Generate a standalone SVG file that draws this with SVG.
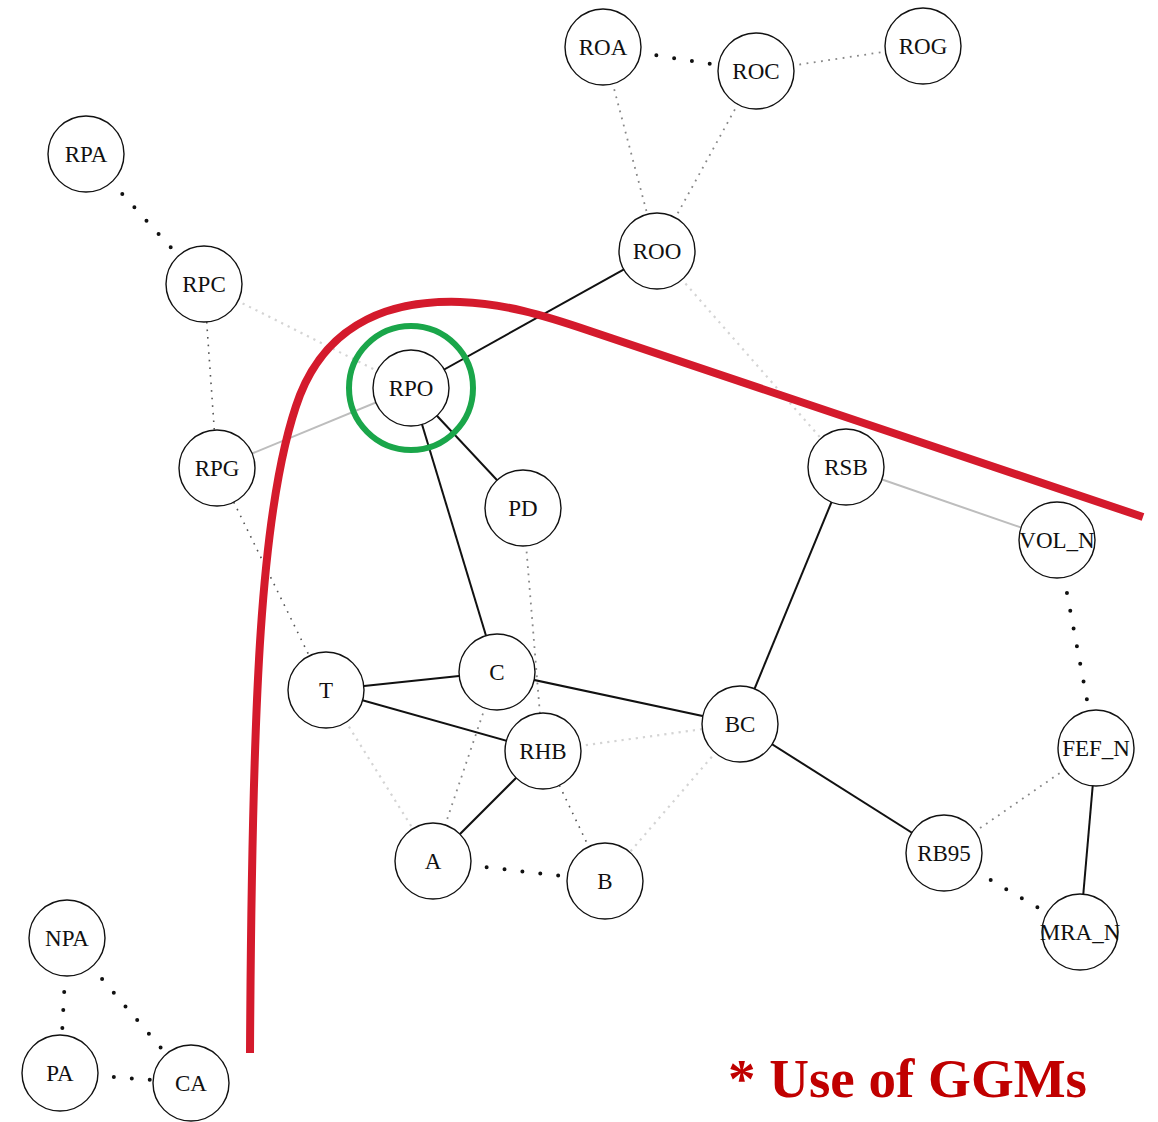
<svg xmlns="http://www.w3.org/2000/svg" width="1158" height="1122" viewBox="0 0 1158 1122">
<style>
.n circle{fill:#fff;stroke:#111;stroke-width:1.4}
.n text{font-family:"Liberation Serif","Times New Roman",serif;font-size:23px;fill:#111;text-anchor:middle}
.s{stroke:#111;stroke-width:2;fill:none}
.sl{stroke:#bdbdbd;stroke-width:2;fill:none}
.hd{stroke:#111;stroke-width:4;stroke-linecap:round;stroke-dasharray:0 18;fill:none}
.fd{stroke:#555;stroke-width:1.6;stroke-dasharray:1.6 6;fill:none}
.md{stroke:#888;stroke-width:1.8;stroke-dasharray:1.8 5.5;fill:none}
.ld{stroke:#d4d4d4;stroke-width:2.2;stroke-dasharray:2.2 5;fill:none}
</style>
<rect width="1158" height="1122" fill="#fff"/>
<g id="connectors">
<line class="s" x1="657" y1="251" x2="411" y2="388"/>
<line class="s" x1="411" y1="388" x2="497" y2="672"/>
<line class="s" x1="411" y1="388" x2="523" y2="508"/>
<line class="s" x1="326" y1="690" x2="497" y2="672"/>
<line class="s" x1="326" y1="690" x2="543" y2="751"/>
<line class="s" x1="497" y1="672" x2="740" y2="724"/>
<line class="s" x1="846" y1="467" x2="740" y2="724"/>
<line class="s" x1="740" y1="724" x2="944" y2="853"/>
<line class="s" x1="543" y1="751" x2="433" y2="861"/>
<line class="s" x1="1096" y1="748" x2="1080" y2="932"/>
<line class="sl" x1="411" y1="388" x2="217" y2="468"/>
<line class="sl" x1="846" y1="467" x2="1057" y2="540"/>
<line class="hd" x1="603" y1="47" x2="756" y2="71"/>
<line class="hd" x1="86" y1="154" x2="204" y2="284"/>
<line class="hd" x1="1057" y1="540" x2="1096" y2="748"/>
<line class="hd" x1="433" y1="861" x2="605" y2="881"/>
<line class="hd" x1="944" y1="853" x2="1080" y2="932"/>
<line class="hd" x1="67" y1="938" x2="60" y2="1073"/>
<line class="hd" x1="67" y1="938" x2="191" y2="1083"/>
<line class="hd" x1="60" y1="1073" x2="191" y2="1083"/>
<line class="md" x1="603" y1="47" x2="657" y2="251"/>
<line class="md" x1="756" y1="71" x2="657" y2="251"/>
<line class="md" x1="756" y1="71" x2="923" y2="46"/>
<line class="fd" x1="204" y1="284" x2="217" y2="468"/>
<line class="fd" x1="217" y1="468" x2="326" y2="690"/>
<line class="md" x1="523" y1="508" x2="543" y2="751"/>
<line class="md" x1="497" y1="672" x2="433" y2="861"/>
<line class="fd" x1="543" y1="751" x2="605" y2="881"/>
<line class="md" x1="944" y1="853" x2="1096" y2="748"/>
<line class="ld" x1="204" y1="284" x2="411" y2="388"/>
<line class="ld" x1="657" y1="251" x2="846" y2="467"/>
<line class="ld" x1="326" y1="690" x2="433" y2="861"/>
<line class="ld" x1="543" y1="751" x2="740" y2="724"/>
<line class="ld" x1="740" y1="724" x2="605" y2="881"/>
</g>
<g id="node-ROA" class="n"><circle cx="603" cy="47" r="38"/><text x="603" y="55">ROA</text></g>
<g id="node-ROC" class="n"><circle cx="756" cy="71" r="38"/><text x="756" y="79">ROC</text></g>
<g id="node-ROG" class="n"><circle cx="923" cy="46" r="38"/><text x="923" y="54">ROG</text></g>
<g id="node-ROO" class="n"><circle cx="657" cy="251" r="38"/><text x="657" y="259">ROO</text></g>
<g id="node-RPA" class="n"><circle cx="86" cy="154" r="38"/><text x="86" y="162">RPA</text></g>
<g id="node-RPC" class="n"><circle cx="204" cy="284" r="38"/><text x="204" y="292">RPC</text></g>
<g id="node-RPO" class="n"><circle cx="411" cy="388" r="38"/><text x="411" y="396">RPO</text></g>
<g id="node-RPG" class="n"><circle cx="217" cy="468" r="38"/><text x="217" y="476">RPG</text></g>
<g id="node-PD" class="n"><circle cx="523" cy="508" r="38"/><text x="523" y="516">PD</text></g>
<g id="node-RSB" class="n"><circle cx="846" cy="467" r="38"/><text x="846" y="475">RSB</text></g>
<g id="node-VOL_N" class="n"><circle cx="1057" cy="540" r="38"/><text x="1057" y="548">VOL_N</text></g>
<g id="node-T" class="n"><circle cx="326" cy="690" r="38"/><text x="326" y="698">T</text></g>
<g id="node-C" class="n"><circle cx="497" cy="672" r="38"/><text x="497" y="680">C</text></g>
<g id="node-BC" class="n"><circle cx="740" cy="724" r="38"/><text x="740" y="732">BC</text></g>
<g id="node-RHB" class="n"><circle cx="543" cy="751" r="38"/><text x="543" y="759">RHB</text></g>
<g id="node-FEF_N" class="n"><circle cx="1096" cy="748" r="38"/><text x="1096" y="756">FEF_N</text></g>
<g id="node-A" class="n"><circle cx="433" cy="861" r="38"/><text x="433" y="869">A</text></g>
<g id="node-B" class="n"><circle cx="605" cy="881" r="38"/><text x="605" y="889">B</text></g>
<g id="node-RB95" class="n"><circle cx="944" cy="853" r="38"/><text x="944" y="861">RB95</text></g>
<g id="node-MRA_N" class="n"><circle cx="1080" cy="932" r="38"/><text x="1080" y="940">MRA_N</text></g>
<g id="node-NPA" class="n"><circle cx="67" cy="938" r="38"/><text x="67" y="946">NPA</text></g>
<g id="node-PA" class="n"><circle cx="60" cy="1073" r="38"/><text x="60" y="1081">PA</text></g>
<g id="node-CA" class="n"><circle cx="191" cy="1083" r="38"/><text x="191" y="1091">CA</text></g>
<g id="annotations">
<circle cx="411" cy="388" r="62" fill="none" stroke="#1aa64a" stroke-width="6"/>
<path d="M250,1053 C252,700 260,500 300,395 C330,320 395,300 460,302 C505,304 540,314 590,331 L1143,517" fill="none" stroke="#d41a2c" stroke-width="8"/>
<text x="728" y="1097" font-family="'Liberation Serif','Times New Roman',serif" font-weight="bold" font-size="55" fill="#c00000">* Use of GGMs</text>
</g>
</svg>
